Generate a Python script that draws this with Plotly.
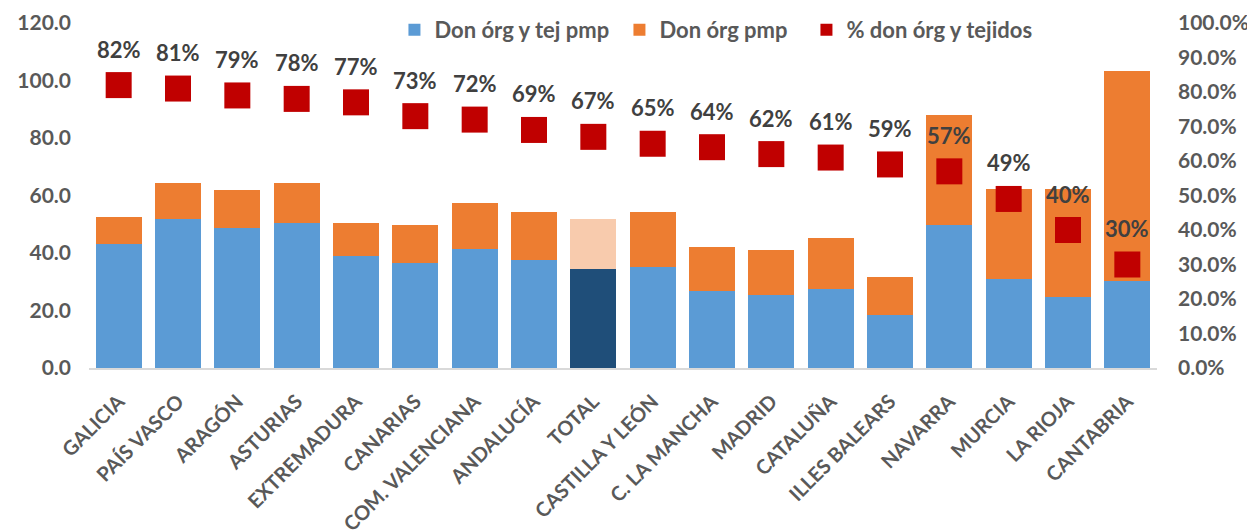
import plotly.graph_objects as go

categories = ["GALICIA", "PAÍS VASCO", "ARAGÓN", "ASTURIAS", "EXTREMADURA", "CANARIAS",
              "COM. VALENCIANA", "ANDALUCÍA", "TOTAL", "CASTILLA Y LEÓN", "C. LA MANCHA",
              "MADRID", "CATALUÑA", "ILLES BALEARS", "NAVARRA", "MURCIA", "LA RIOJA", "CANTABRIA"]
don_org_tej = [43.0, 51.7, 48.7, 50.3, 39.0, 36.4, 41.3, 37.6, 34.5, 35.2, 26.8, 25.4, 27.6, 18.3, 49.7, 30.8, 24.7, 30.3]
don_total = [52.5, 64.2, 62.0, 64.2, 50.3, 49.7, 57.4, 54.3, 51.8, 54.3, 42.1, 41.0, 45.2, 31.7, 88.1, 62.4, 62.4, 103.3]
don_org = [round(t - b, 1) for t, b in zip(don_total, don_org_tej)]
pct = [0.82, 0.81, 0.79, 0.78, 0.77, 0.73, 0.72, 0.69, 0.67, 0.65, 0.64, 0.62, 0.61, 0.59, 0.57, 0.49, 0.40, 0.30]

BLUE, ORANGE, RED = "#5B9BD5", "#ED7D31", "#C00000"
NAVY, PEACH = "#1F4E79", "#F8CBAD"
GREY = "#595959"
FONT = "Lato"

blue_cols = [NAVY if c == "TOTAL" else BLUE for c in categories]
orange_cols = [PEACH if c == "TOTAL" else ORANGE for c in categories]

fig = go.Figure()
fig.add_trace(go.Bar(x=categories, y=don_org_tej, name="Don órg y tej pmp", legendwidth=180,
                     marker=dict(color=blue_cols, line=dict(width=0))))
fig.add_trace(go.Bar(x=categories, y=don_org, name="Don órg pmp", legendwidth=142,
                     marker=dict(color=orange_cols, line=dict(width=0))))
fig.add_trace(go.Scatter(x=categories, y=pct, name="% don órg y tejidos", mode="markers",
                         yaxis="y2", marker=dict(symbol="square", size=26, color=RED,
                                                 line=dict(width=0))))

annotations = [dict(x=c, y=p, yref="y2", xref="x", text=f"{round(p*100)}%", showarrow=False,
                    yshift=36, font=dict(family=FONT, size=22, color="#404040", weight="bold"))
               for c, p in zip(categories, pct)]

tickfont = dict(size=21, color=GREY, family=FONT, weight="bold")

fig.update_layout(
    width=1247, height=523,
    margin=dict(l=81, r=98, t=15, b=163, autoexpand=False),
    paper_bgcolor="white", plot_bgcolor="white",
    barmode="stack", bargap=0.225,
    font=dict(family=FONT, size=18, color=GREY, weight="bold"),
    showlegend=True,
    legend=dict(orientation="h", x=0.286, xanchor="left", y=0.98, yanchor="middle",
                itemsizing="constant", font=dict(size=22, color=GREY, family=FONT, weight="bold"),
                bgcolor="rgba(0,0,0,0)", traceorder="normal"),
    xaxis=dict(showline=True, linecolor="#D9D9D9", linewidth=2, automargin=False,
               range=[-0.5, len(categories) - 0.5], tickangle=-45, ticklabelstandoff=12,
               ticks="", showgrid=False,
               tickfont=dict(size=20, color=GREY, family=FONT, weight="bold")),
    yaxis=dict(range=[0, 120], dtick=20, tickformat=".1f", showgrid=False, zeroline=False,
               automargin=False, ticks="", ticklabelstandoff=17, tickfont=tickfont),
    yaxis2=dict(range=[0, 1], dtick=0.1, tickformat=".1%", overlaying="y", side="right",
                showgrid=False, zeroline=False, ticks="", automargin=False,
                ticklabelstandoff=20, tickfont=tickfont),
    annotations=annotations,
)

fig.write_html("out.html")
